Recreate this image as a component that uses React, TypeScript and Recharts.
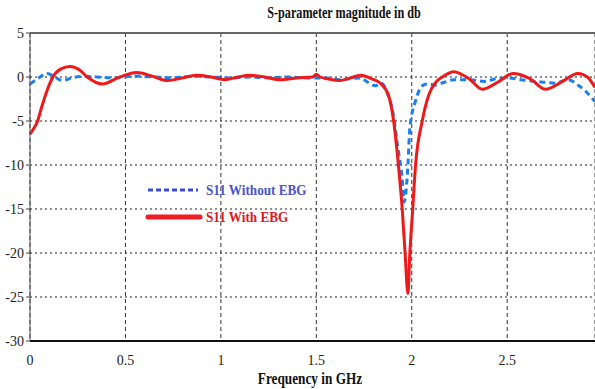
import { LineChart, Line, XAxis, YAxis, CartesianGrid, ReferenceLine } from "recharts"

// S11 with EBG (red)
const freqWithEbg = [
  0, 0.015, 0.04, 0.06, 0.09, 0.12, 0.16, 0.21, 0.26, 0.3, 0.38, 0.47, 0.56, 0.64, 0.72, 0.8, 0.87, 0.95, 1.02,
  1.09, 1.15, 1.23, 1.31, 1.4, 1.48, 1.5, 1.52, 1.56, 1.62, 1.68, 1.73, 1.79, 1.84, 1.88, 1.905, 1.93, 1.95, 1.965,
  1.98, 1.99, 2.005, 2.02, 2.055, 2.09, 2.13, 2.16, 2.22, 2.3, 2.37, 2.45, 2.53, 2.62, 2.7, 2.79, 2.87, 2.92, 2.96,
]
const s11WithEbg = [
  -6.5, -6.0, -5.0, -3.5, -1.5, 0, 0.9, 1.2, 0.8, 0, -0.8, 0, 0.5, 0.1, -0.4, -0.1, 0.2, 0, -0.3,
  0, 0.2, 0, -0.3, -0.1, 0, 0.3, 0, -0.2, -0.4, -0.1, 0.2, -0.2, -0.8, -2.2, -5, -10, -15, -20,
  -24.6, -20, -15, -10, -5, -2, -0.5, 0, 0.6, -0.2, -1.4, -0.6, 0.4, -0.2, -1.4, -0.5, 0.4, 0, -1.2,
]

// S11 without EBG (blue dashed)
const freqWithoutEbg = [
  0, 0.04, 0.09, 0.13, 0.17, 0.22, 0.28, 0.35, 0.45, 0.55, 0.65, 0.75, 0.85, 0.95, 1.05, 1.15, 1.25, 1.35, 1.45,
  1.55, 1.62, 1.68, 1.73, 1.77, 1.81, 1.84, 1.88, 1.9, 1.925, 1.95, 1.96, 1.98, 1.99, 2.02, 2.055, 2.08, 2.12, 2.17,
  2.22, 2.3, 2.38, 2.44, 2.5, 2.57, 2.64, 2.7, 2.75, 2.82, 2.87, 2.91, 2.96,
]
const s11WithoutEbg = [
  -0.8, -0.2, 0.4, 0, -0.4, -0.1, 0.1, 0, -0.1, 0.1, 0, -0.1, 0.1, 0, -0.1, 0, -0.1, 0, -0.1,
  -0.1, -0.3, -0.2, -0.1, -0.6, -1.0, -0.7, -2.3, -3.9, -7.7, -11.6, -14.2, -10, -5.8, -2.7, -1, -0.8, -0.9, -0.6,
  -0.3, -0.3, -0.5, -0.2, -0.1, -0.3, -0.5, -0.6, -0.7, -0.3, -0.9, -1.6, -2.8,
]

const xTicks = [0, 0.5, 1, 1.5, 2, 2.5]
const yTicks = [5, 0, -5, -10, -15, -20, -25, -30]

const withEbgData = freqWithEbg.map((f, i) => ({ f, v: s11WithEbg[i] }))
const withoutEbgData = freqWithoutEbg.map((f, i) => ({ f, v: s11WithoutEbg[i] }))

const serif = "'Liberation Serif', 'Times New Roman', serif"

function LegendBox() {
  return (
    <svg width={170} height={50} style={{ position: "absolute", left: 146, top: 180, overflow: "visible" }}>
      <line x1={2} y1={10} x2={52} y2={10} stroke="#3a4fd8" strokeWidth={3} strokeDasharray="5 3" />
      <text x={60} y={15} fill="#4a55cc" fontFamily={serif} fontWeight="bold" fontSize={15} transform="translate(60 0) scale(0.88 1) translate(-60 0)">
        S11 Without EBG
      </text>
      <line x1={2} y1={37} x2={54} y2={37} stroke="#ee1c25" strokeWidth={5} strokeLinecap="round" />
      <text x={60} y={42} fill="#e3161e" fontFamily={serif} fontWeight="bold" fontSize={15} transform="translate(60 0) scale(0.88 1) translate(-60 0)">
        S11 With EBG
      </text>
    </svg>
  )
}

export default function App() {
  return (
    <div style={{ position: "absolute", left: 0, top: 0, width: 595, height: 389, background: "#fff" }}>
      <div
        style={{
          position: "absolute",
          top: 4,
          left: 0,
          width: 688,
          textAlign: "center",
          fontFamily: serif,
          fontWeight: "bold",
          fontSize: 16,
          color: "#111",
          transform: "scaleX(0.76)",
        }}
      >
        S-parameter magnitude in db
      </div>
      <LineChart
        width={595}
        height={389}
        margin={{ top: 33, right: 0, left: 0, bottom: 28 }}
        style={{ fontFamily: serif }}
      >
        <CartesianGrid horizontal={true} vertical={false} stroke="#222" strokeDasharray="2 3" />
        <CartesianGrid horizontal={false} vertical={true} stroke="#333" strokeDasharray="4 3" />
        <XAxis
          type="number"
          dataKey="f"
          domain={[0, 2.96]}
          ticks={xTicks}
          allowDuplicatedCategory={false}
          tick={{ fill: "#222", fontSize: 14 }}
          tickLine={false}
          axisLine={{ stroke: "#111", strokeWidth: 2 }}
          tickMargin={8}
          height={20}
        />
        <YAxis
          type="number"
          domain={[-30, 5]}
          ticks={yTicks}
          width={30}
          tick={{ fill: "#222", fontSize: 14 }}
          tickSize={4}
          tickLine={{ stroke: "#444" }}
          axisLine={{ stroke: "#555" }}
        />
        <ReferenceLine y={5} stroke="#666" strokeWidth={2} />
        <Line
          data={withoutEbgData}
          dataKey="v"
          type="monotone"
          stroke="#1a7ff0"
          strokeWidth={3}
          strokeDasharray="6 4"
          dot={false}
          isAnimationActive={false}
        />
        <Line
          data={withEbgData}
          dataKey="v"
          type="monotone"
          stroke="#f01818"
          strokeWidth={3}
          dot={false}
          isAnimationActive={false}
        />
      </LineChart>
      <LegendBox />
      <div
        style={{
          position: "absolute",
          top: 369,
          left: 0,
          width: 620,
          textAlign: "center",
          fontFamily: serif,
          fontWeight: "bold",
          fontSize: 17,
          color: "#111",
          transform: "scaleX(0.78)",
        }}
      >
        Frequency in GHz
      </div>
    </div>
  )
}
